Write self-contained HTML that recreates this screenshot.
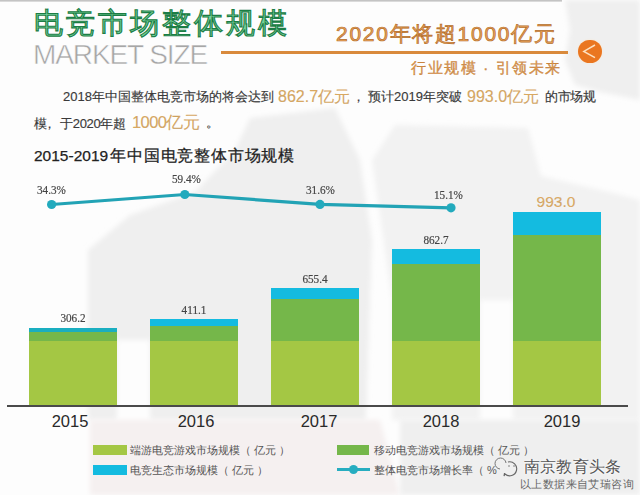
<!DOCTYPE html>
<html><head><meta charset="utf-8">
<style>
html,body{margin:0;padding:0;}
body{width:640px;height:495px;position:relative;overflow:hidden;background:#fdfdfd;font-family:"Liberation Sans",sans-serif;}
.a{position:absolute;white-space:nowrap;}
.bar{position:absolute;width:88px;}
.lg{background:#a4c744;}
.dg{background:#75b74a;}
.tl{background:#14bbe0;}
.val{position:absolute;font-family:"Liberation Serif",serif;font-size:13px;color:#444;text-align:center;width:88px;transform:scaleX(0.86);-webkit-text-stroke:0.2px #444;}
.pct{position:absolute;font-family:"Liberation Serif",serif;font-size:13px;color:#444;-webkit-text-stroke:0.2px #444;transform:scaleX(0.86);transform-origin:0 0;}
.yr{position:absolute;font-size:16.5px;color:#2a2a2a;width:88px;text-align:center;}
.leg{position:absolute;font-size:11px;color:#555;}
.p{position:absolute;white-space:nowrap;font-size:13px;color:#3a3a3a;-webkit-text-stroke:0.15px #3a3a3a;}
.o{position:absolute;white-space:nowrap;font-size:16px;color:#d8a862;-webkit-text-stroke:0.1px #a98a5e;}
</style></head><body>
<svg class="a" style="left:0;top:0;" width="640" height="495" viewBox="0 0 640 495">
  <defs><filter id="bl" x="-10%" y="-10%" width="120%" height="120%"><feGaussianBlur stdDeviation="2.5"/></filter></defs>
  <rect x="0" y="0" width="562" height="1.6" fill="#c4c4c4"/>
  <g fill="#efefef" filter="url(#bl)">
    <path d="M565 0 L640 0 L640 100 L600 92 L575 85 L565 60 L570 30 Z"/>
    <path d="M250 118 L335 108 L360 160 L372 240 L370 300 L366 420 L150 420 L150 340 L117 340 L117 420 L88 420 L88 250 L130 215 L195 192 L235 150 Z"/>
  </g>
  <g fill="#f2f2f2" filter="url(#bl)">
    <path d="M395 125 L528 128 L541 176 L613 193 L640 200 L640 420 L513 420 L513 300 L480 300 L480 420 L392 420 L392 300 L385 250 L372 160 Z"/>
  </g>
  <g fill="#f5f0f0" filter="url(#bl)">
    <path d="M90 420 L380 420 L400 495 L90 495 Z"/>
  </g>
  <g fill="#efefef" filter="url(#bl)">
    <path d="M400 420 L640 420 L640 495 L400 495 Z"/>
  </g>
</svg>

<!-- Title -->
<div class="a" id="t1" style="left:34px;top:4px;font-size:29px;font-weight:normal;color:#74d29c;-webkit-text-stroke:1.1px #1c7d45;letter-spacing:3px;">电竞市场整体规模</div>
<div class="a" id="t2" style="left:33px;top:39px;font-size:28px;color:#a6a6a6;letter-spacing:-1.1px;-webkit-text-stroke:0.5px #fdfdfd;">MARKET SIZE</div>
<div class="a" style="left:221px;top:51px;width:347px;height:3px;background:#d98a3c;"></div>
<div class="a" id="t3" style="left:336px;top:20px;font-size:21px;color:#eba65c;-webkit-text-stroke:0.7px #b56d2a;letter-spacing:1.7px;">2020年将超1000亿元</div>
<div class="a" id="t4" style="left:411px;top:59px;font-size:15px;color:#e09a50;-webkit-text-stroke:0.3px #b87330;letter-spacing:1.6px;">行业规模 · 引领未来</div>
<div class="a" style="left:578px;top:39.5px;width:23.5px;height:23.5px;border-radius:50%;background:#ea7620;box-shadow:0 0 2px #fde6c8;"></div>
<svg class="a" style="left:578px;top:39.5px;" width="24" height="24"><path d="M17 5 L5.8 11.4 L17 17.6" stroke="#fde0c0" stroke-width="1.5" fill="none"/></svg>

<!-- paragraph -->
<div class="p" style="left:63px;top:88px;">2018年中国整体电竞市场的将会达到</div>
<div class="o" style="left:278px;top:87px;">862.7亿元</div>
<div class="p" style="left:352px;top:88px;">，</div>
<div class="p" style="left:368px;top:88px;">预计2019年突破</div>
<div class="o" style="left:467px;top:87px;">993.0亿元</div>
<div class="p" style="left:545px;top:88px;letter-spacing:-0.3px;">的市场规</div>
<div class="p" style="left:34px;top:115px;">模</div>
<div class="p" style="left:43px;top:115px;">，</div>
<div class="p" style="left:60px;top:115px;letter-spacing:-0.3px;">于2020年超</div>
<div class="o" style="left:132px;top:112px;font-size:16.5px;letter-spacing:-0.6px;">1000亿元</div>
<div class="p" style="left:206px;top:114px;">。</div>

<!-- chart title -->
<div class="a" id="ct" style="left:34px;top:146px;font-size:15.5px;color:#222;-webkit-text-stroke:0.25px #222;">2015-2019<span style="letter-spacing:0.8px;margin-left:2px;">年中国电竞整体市场规模</span></div>

<!-- line -->
<svg class="a" style="left:0;top:0;" width="640" height="495">
  <polyline points="51.6,204.5 184.8,194.5 320,204.4 451,207.8" stroke="#22a3b5" stroke-width="3.2" fill="none"/>
  <circle cx="51.6" cy="204.5" r="4.6" fill="#22aabd"/>
  <circle cx="184.8" cy="194.5" r="4.6" fill="#22aabd"/>
  <circle cx="320" cy="204.4" r="4.6" fill="#22aabd"/>
  <circle cx="451" cy="207.8" r="4.6" fill="#22aabd"/>
</svg>
<div class="pct" style="left:37px;top:182px;">34.3%</div>
<div class="pct" style="left:172px;top:171px;">59.4%</div>
<div class="pct" style="left:306px;top:182px;">31.6%</div>
<div class="pct" style="left:434px;top:187px;">15.1%</div>

<!-- bars -->
<div class="bar tl" style="left:29px;top:328px;height:4px;background:#1aaec0;"></div>
<div class="bar dg" style="left:29px;top:332px;height:9px;"></div>
<div class="bar lg" style="left:29px;top:341px;height:64px;"></div>
<div class="val" style="left:29px;top:310px;">306.2</div>

<div class="bar tl" style="left:150px;top:319px;height:7px;"></div>
<div class="bar dg" style="left:150px;top:326px;height:15px;"></div>
<div class="bar lg" style="left:150px;top:341px;height:64px;"></div>
<div class="val" style="left:150px;top:302px;">411.1</div>

<div class="bar tl" style="left:271px;top:288px;height:11px;"></div>
<div class="bar dg" style="left:271px;top:299px;height:42px;"></div>
<div class="bar lg" style="left:271px;top:341px;height:64px;"></div>
<div class="val" style="left:271px;top:271px;">655.4</div>

<div class="bar tl" style="left:392px;top:249px;height:15px;"></div>
<div class="bar dg" style="left:392px;top:264px;height:77px;"></div>
<div class="bar lg" style="left:392px;top:341px;height:64px;"></div>
<div class="val" style="left:392px;top:232px;">862.7</div>

<div class="bar tl" style="left:513px;top:212px;height:23px;"></div>
<div class="bar dg" style="left:513px;top:235px;height:106px;"></div>
<div class="bar lg" style="left:513px;top:341px;height:64px;"></div>
<div class="val" style="left:512px;top:193px;font-family:'Liberation Sans',sans-serif;font-size:15.5px;color:#dcaa64;-webkit-text-stroke:0.1px #a98a5e;transform:none;">993.0</div>

<div class="a" style="left:7px;top:405px;width:621px;height:2px;background:#4a4a4a;"></div>

<div class="yr" style="left:26px;top:412px;">2015</div>
<div class="yr" style="left:152px;top:412px;">2016</div>
<div class="yr" style="left:275px;top:412px;">2017</div>
<div class="yr" style="left:397px;top:412px;">2018</div>
<div class="yr" style="left:518px;top:412px;">2019</div>

<!-- legend -->
<div class="a lg" style="left:93px;top:445px;width:34px;height:10px;"></div>
<div class="leg" style="left:130px;top:443px;">端游电竞游戏市场规模（ 亿元 ）</div>
<div class="a tl" style="left:93px;top:465px;width:34px;height:10px;"></div>
<div class="leg" style="left:130px;top:463px;">电竞生态市场规模（ 亿元 ）</div>
<div class="a dg" style="left:337px;top:445px;width:32px;height:10px;"></div>
<div class="leg" style="left:374px;top:443px;">移动电竞游戏市场规模（ 亿元 ）</div>
<div class="a" style="left:337px;top:468px;width:33px;height:2.5px;background:#27adc0;"></div>
<div class="a" style="left:349px;top:465px;width:9px;height:9px;border-radius:50%;background:#27adc0;"></div>
<div class="leg" style="left:374px;top:463px;">整体电竞市场增长率（ %</div>

<!-- watermark -->
<svg class="a" style="left:492px;top:455px;" width="32" height="26"><path d="M14 8 A5.5 5.5 0 1 0 8 14" stroke="#777" stroke-width="1" fill="none"/><path d="M16 7 A7 7 0 1 1 13 19 L12 21 L12.5 18" stroke="#666" stroke-width="1.1" fill="none"/><circle cx="17" cy="11" r="0.8" fill="#777"/><circle cx="22" cy="11" r="0.8" fill="#777"/></svg>
<div class="a" style="left:524px;top:457px;font-size:16px;color:#555;letter-spacing:0.2px;text-shadow:0 0 2px #fff,0 0 3px #fff;">南京教育头条</div>
<div class="a" style="left:520px;top:477px;font-size:11px;color:#666;letter-spacing:0.4px;">以上数据来自艾瑞咨询</div>
</body></html>
